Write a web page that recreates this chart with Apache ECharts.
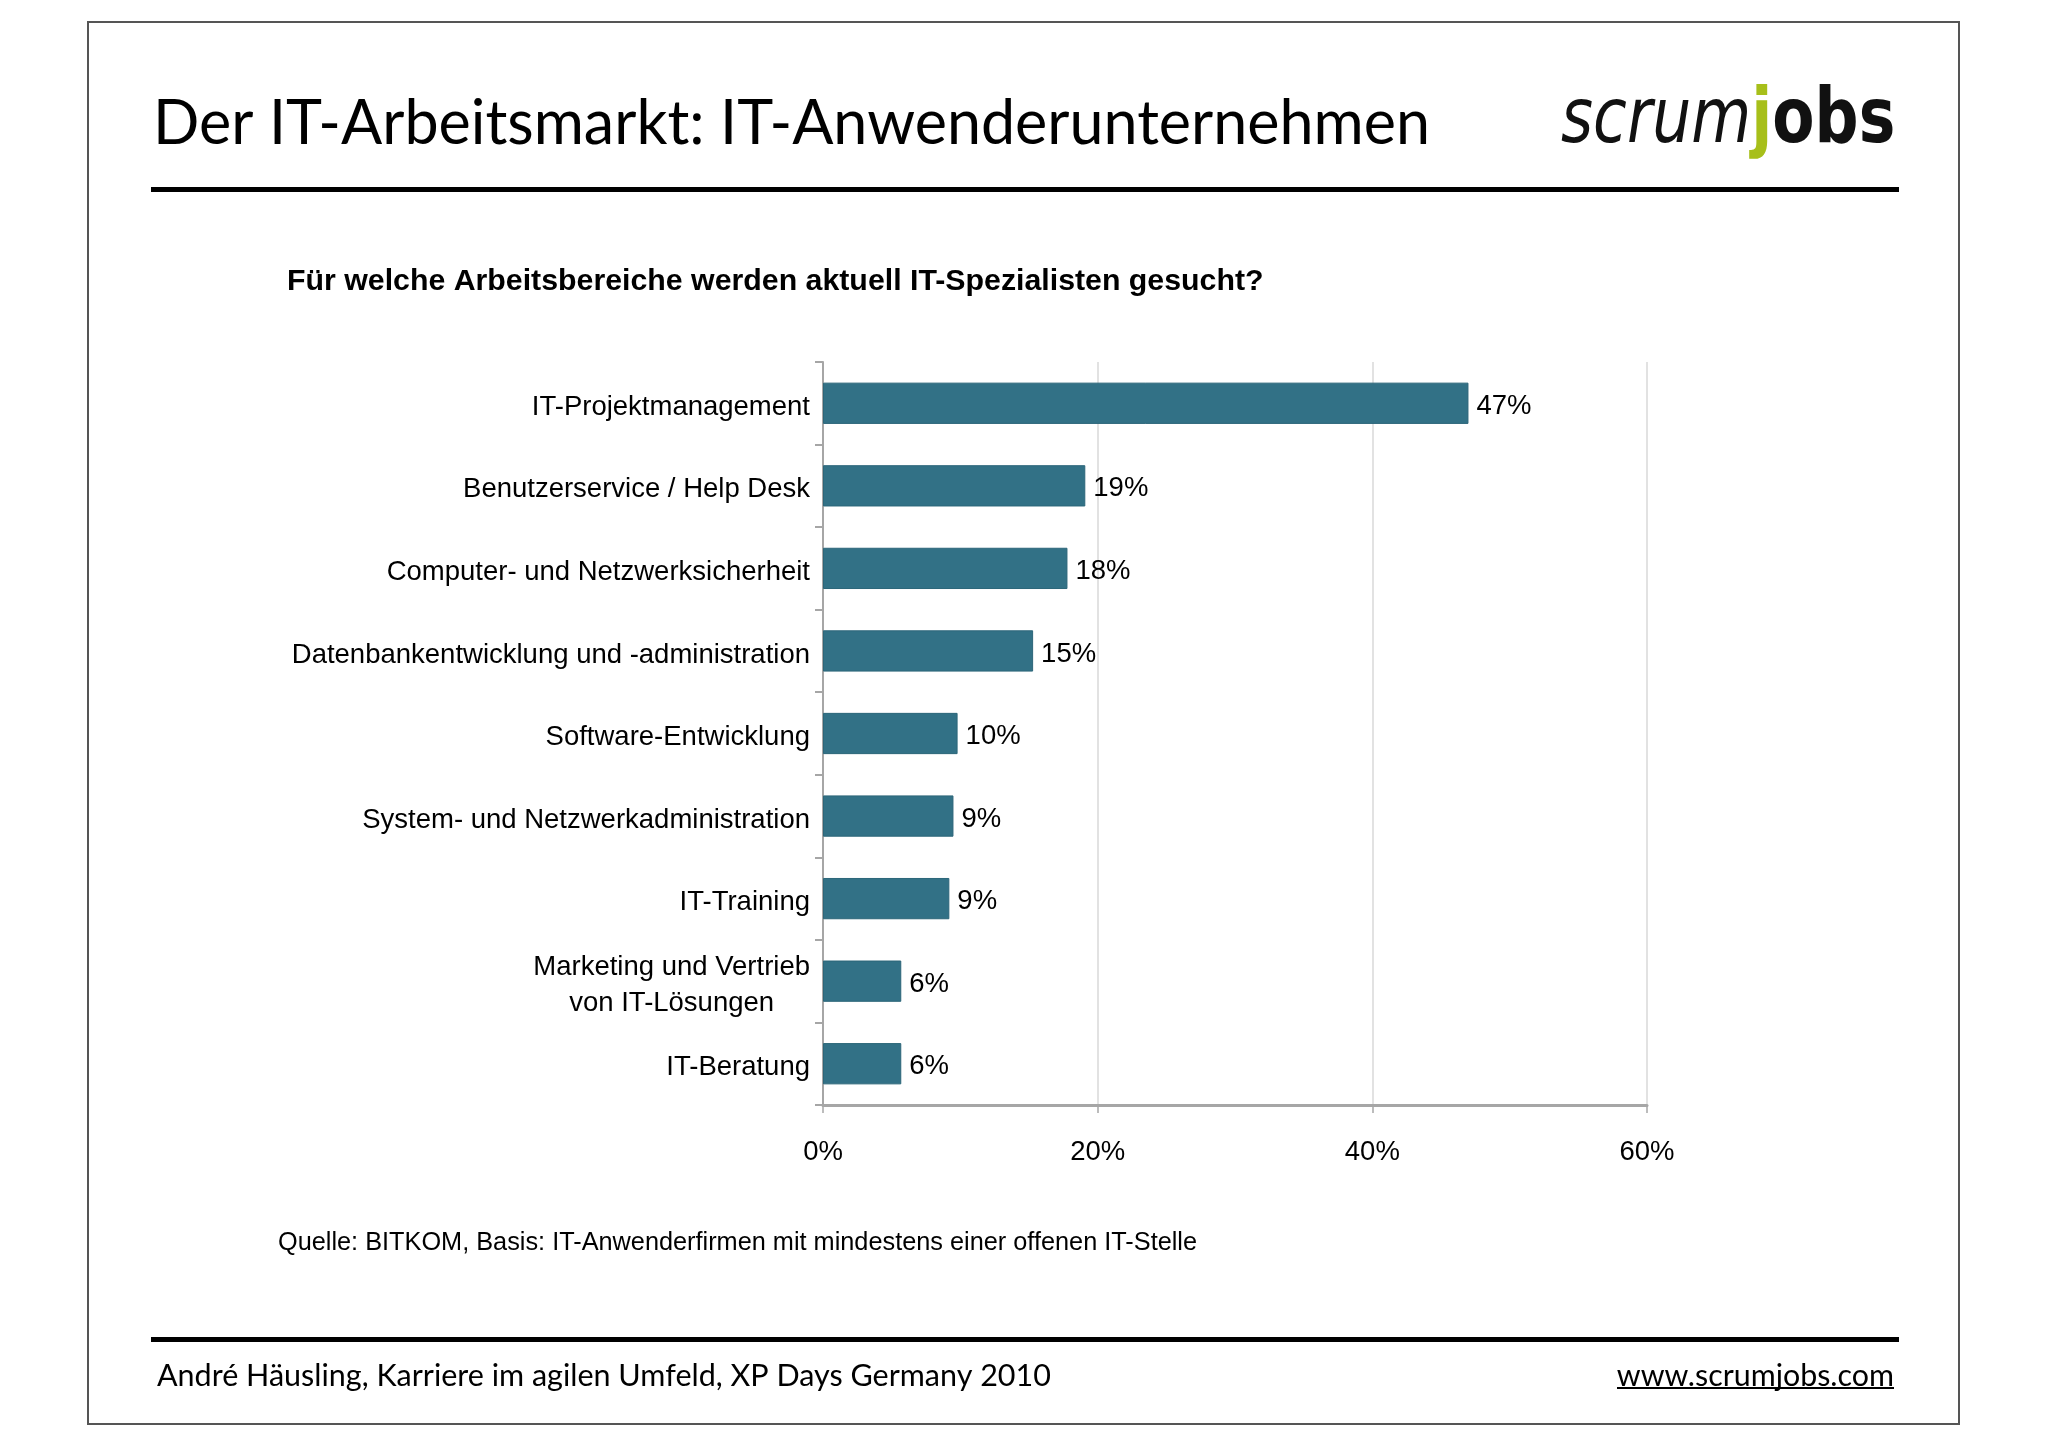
<!DOCTYPE html>
<html>
<head>
<meta charset="utf-8">
<script src="https://cdn.jsdelivr.net/npm/echarts@6/dist/echarts.min.js"></script>
<style>
html,body{margin:0;padding:0;background:#fff;}
#chart{width:2048px;height:1447px;}
</style>
</head>
<body>
<div id="chart"></div>
<script>
// ---- data ----
const categories = [
  "IT-Projektmanagement",
  "Benutzerservice / Help Desk",
  "Computer- und Netzwerksicherheit",
  "Datenbankentwicklung und -administration",
  "Software-Entwicklung",
  "System- und Netzwerkadministration",
  "IT-Training",
  "Marketing und Vertrieb\nvon IT-Lösungen",
  "IT-Beratung"
];
const values = [47, 19.1, 17.8, 15.3, 9.8, 9.5, 9.2, 5.7, 5.7];
const valueLabels = ["47%", "19%", "18%", "15%", "10%", "9%", "9%", "6%", "6%"];
const xTicks = [0, 20, 40, 60];

const titleText = "Der IT-Arbeitsmarkt: IT-Anwenderunternehmen";
const subtitleText = "Für welche Arbeitsbereiche werden aktuell IT-Spezialisten gesucht?";
const sourceText = "Quelle: BITKOM, Basis: IT-Anwenderfirmen mit mindestens einer offenen IT-Stelle";
const footerText = "André Häusling, Karriere im agilen Umfeld, XP Days Germany 2010";
const urlText = "www.scrumjobs.com";

const chart = echarts.init(document.getElementById('chart'), null, {renderer: 'canvas'});

const LBL_FONT = 'Liberation Sans, Arial, sans-serif';
const LBL_SIZE = 27.5;

const option = {
  backgroundColor: '#ffffff',
  animation: false,
  grid: {left: 823, right: 401, top: 362, bottom: 342, containLabel: false},
  xAxis: {
    type: 'value',
    min: xTicks[0],
    max: xTicks[xTicks.length - 1],
    interval: xTicks[1] - xTicks[0],
    axisLine: {show: true, lineStyle: {color: '#a6a6a6', width: 3}},
    axisTick: {show: true, length: 8, lineStyle: {color: '#a6a6a6', width: 1.5}},
    splitLine: {show: true, lineStyle: {color: '#d9d9d9', width: 1.5}},
    axisLabel: {
      margin: 33,
      fontFamily: LBL_FONT,
      fontSize: LBL_SIZE,
      color: '#000',
      formatter: v => v + '%'
    }
  },
  yAxis: {
    type: 'category',
    inverse: true,
    data: categories,
    axisLine: {show: true, lineStyle: {color: '#a6a6a6', width: 2}},
    axisTick: {show: true, length: 8, lineStyle: {color: '#a6a6a6', width: 2}},
    axisLabel: {
      margin: 13,
      fontFamily: LBL_FONT,
      fontSize: LBL_SIZE,
      color: '#000',
      lineHeight: 36,
      padding: [8, 0, 0, 0],
      formatter: function (v) {
        const parts = v.split('\n');
        if (parts.length === 1) return v;
        return parts.map(p => '{c|' + p + '}').join('\n');
      },
      rich: {
        c: {
          align: 'center',
          fontFamily: LBL_FONT,
          fontSize: LBL_SIZE,
          color: '#000',
          lineHeight: 36
        }
      }
    }
  },
  series: [{
    type: 'bar',
    data: values,
    barWidth: '50%',
    itemStyle: {color: '#327186', borderColor: '#2c6679', borderWidth: 1},
    label: {
      show: true,
      position: 'right',
      distance: 8,
      fontFamily: LBL_FONT,
      fontSize: LBL_SIZE,
      color: '#000',
      offset: [0, 3],
      formatter: p => valueLabels[p.dataIndex]
    }
  }],
  graphic: [
    {type: 'rect', shape: {x: 88, y: 22, width: 1871, height: 1402},
     style: {fill: 'none', stroke: '#555', lineWidth: 2}, z: 0, silent: true},
    {type: 'rect', shape: {x: 151, y: 187, width: 1748, height: 5},
     style: {fill: '#000'}, silent: true},
    {type: 'rect', shape: {x: 151, y: 1337, width: 1748, height: 5},
     style: {fill: '#000'}, silent: true},
    {type: 'text', left: 153, top: 94,
     style: {text: titleText, font: '400 61px Lato, "Open Sans", sans-serif', fill: '#000'}, silent: true},
    {type: 'text', x: 1561, y: 160, scaleX: 0.81, scaleY: 1,
     style: {
       text: '{s|scrum}{j|j}{o|obs}',
       verticalAlign: 'bottom',
       rich: {
         s: {font: 'italic 400 76px "DejaVu Sans", sans-serif', fill: '#111'},
         j: {font: '700 76px "DejaVu Sans", sans-serif', fill: '#a7bf1a'},
         o: {font: '700 76px "DejaVu Sans", sans-serif', fill: '#111'}
       }
     }, silent: true},
    {type: 'text', left: 287, top: 267,
     style: {text: subtitleText, font: 'bold 30.3px "Liberation Sans", Arial, sans-serif', fill: '#000'}, silent: true},
    {type: 'text', left: 278, top: 1231,
     style: {text: sourceText, font: '25.3px "Liberation Sans", Arial, sans-serif', fill: '#000'}, silent: true},
    {type: 'text', left: 157, top: 1361,
     style: {text: footerText, font: '30.5px Lato, "Open Sans", sans-serif', fill: '#000'}, silent: true},
    {type: 'text', right: 154, top: 1361,
     style: {text: urlText, font: '30.4px Lato, "Open Sans", sans-serif', fill: '#000'}, silent: true},
    {type: 'rect', shape: {x: 1617, y: 1387, width: 277, height: 2},
     style: {fill: '#000'}, silent: true}
  ]
};
chart.setOption(option);
</script>
</body>
</html>
